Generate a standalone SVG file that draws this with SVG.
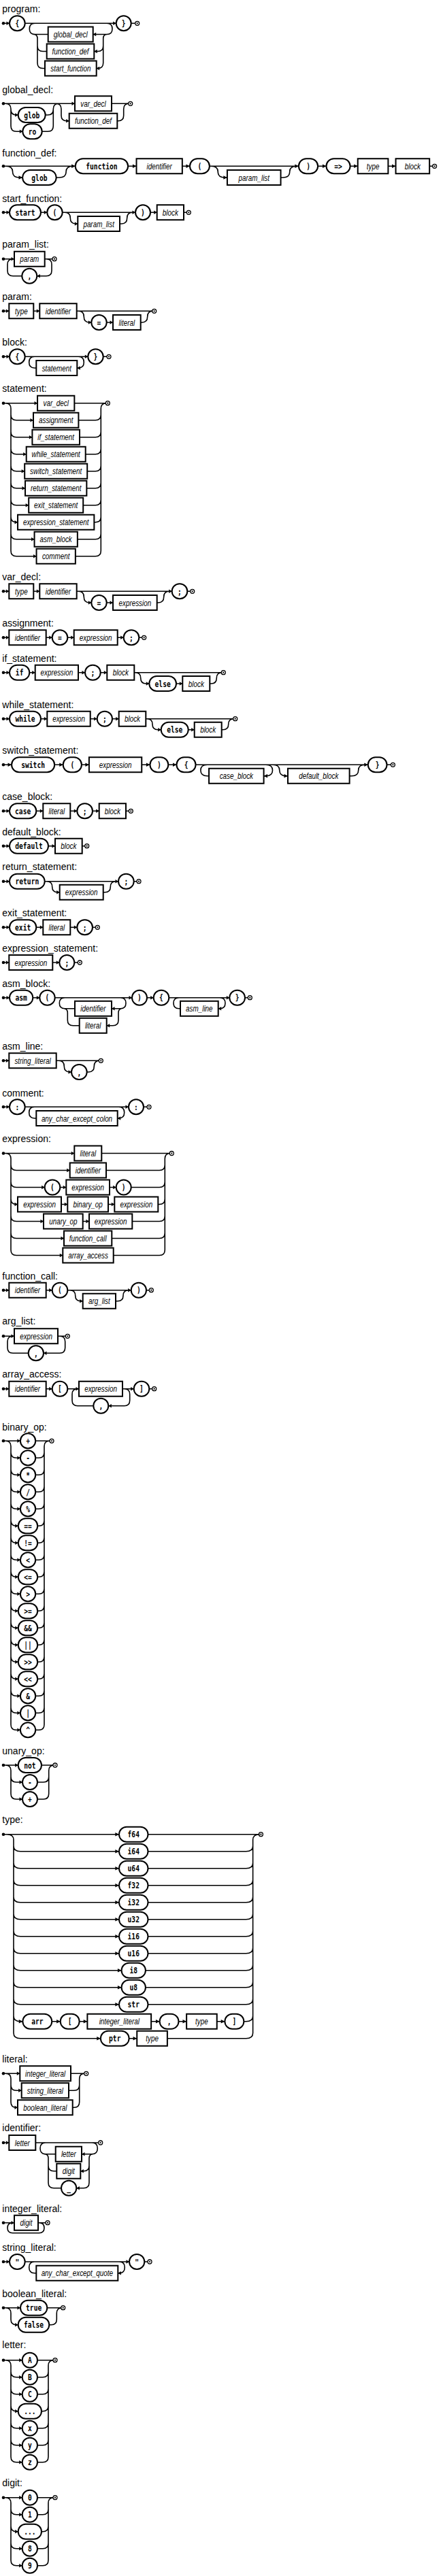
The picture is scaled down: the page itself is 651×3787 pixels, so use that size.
<svg xmlns="http://www.w3.org/2000/svg" width="651" height="3787" viewBox="0 0 651 3787">
<style>
.c path{fill:none;stroke:#000;stroke-width:1.6;vector-effect:non-scaling-stroke}
.n,.t{fill:#fff;stroke:#000;stroke-width:2;vector-effect:non-scaling-stroke}
.nt{font-family:"Liberation Sans",Arial,sans-serif;font-style:italic;font-size:13px;text-anchor:middle;transform:scale(.76,1);transform-origin:0 0}
.tt{font-family:"DejaVu Sans Mono","Liberation Mono",monospace;font-weight:bold;font-size:13px;text-anchor:middle;transform:scale(.74,1);transform-origin:0 0}
.w1 .nt{transform:scale(.613,1)}.w1 .tt{transform:scale(.597,1)}
.w2 .nt{transform:scale(.623,1)}.w2 .tt{transform:scale(.607,1)}
.w3 .nt{transform:scale(.608,1)}.w3 .tt{transform:scale(.592,1)}
.h text{font-family:"Liberation Sans",Arial,sans-serif;font-size:14px}
</style>
<defs>
<path id="a" d="M0 0L-4.5-2.8V2.8Z" fill="#000"/>
<path id="b" d="M0 0L4.5-2.8V2.8Z" fill="#000"/>
<circle id="s" r="2.3" fill="#000"/>
<g id="e"><circle r="3" fill="#fff" stroke="#000" stroke-width="1.3"/><circle r="1.1" fill="#000"/></g>
</defs>
<rect width="651" height="3787" fill="#fff"/>
<g class="h">
<text x="3.3" y="18.3">program:</text>
<text x="3.3" y="136.7">global_decl:</text>
<text x="3.3" y="230">function_def:</text>
<text x="3.3" y="296.7">start_function:</text>
<text x="3.3" y="364.3">param_list:</text>
<text x="3.3" y="441">param:</text>
<text x="3.3" y="508.3">block:</text>
<text x="3.3" y="575.7">statement:</text>
<text x="3.3" y="853.3">var_decl:</text>
<text x="3.3" y="921">assignment:</text>
<text x="3.3" y="973.3">if_statement:</text>
<text x="3.3" y="1040.7">while_statement:</text>
<text x="3.3" y="1108.3">switch_statement:</text>
<text x="3.3" y="1176">case_block:</text>
<text x="3.3" y="1227.7">default_block:</text>
<text x="3.3" y="1279">return_statement:</text>
<text x="3.3" y="1347.3">exit_statement:</text>
<text x="3.3" y="1399.3">expression_statement:</text>
<text x="3.3" y="1450.7">asm_block:</text>
<text x="3.3" y="1542.7">asm_line:</text>
<text x="3.3" y="1611.7">comment:</text>
<text x="3.3" y="1679.3">expression:</text>
<text x="3.3" y="1881">function_call:</text>
<text x="3.3" y="1947.3">arg_list:</text>
<text x="3.3" y="2025">array_access:</text>
<text x="3.3" y="2102.7">binary_op:</text>
<text x="3.3" y="2579.3">unary_op:</text>
<text x="3.3" y="2680">type:</text>
<text x="3.3" y="3031.7">literal:</text>
<text x="3.3" y="3133.3">identifier:</text>
<text x="3.3" y="3251.7">integer_literal:</text>
<text x="3.3" y="3309">string_literal:</text>
<text x="3.3" y="3376.7">boolean_literal:</text>
<text x="3.3" y="3452.3">letter:</text>
<text x="3.3" y="3655">digit:</text>
</g>

<!-- program -->
<g class="c" id="program_conn">
<path d="M5 34.3H14M36.7 34.3H170.7M192.7 34.3H198.7M51.3 34.3Q43.3 34.3 43.3 42.4Q43.3 50.5 51.3 50.5H70.7M49 50.5Q55 50.5 55 56.5V92.5Q55 100.5 63 100.5H66M55 67.5Q55 75.5 63 75.5H68.7M157 34.3Q165 34.3 165 42.4Q165 50.5 157 50.5H136.7M157.7 50.5Q151.7 50.5 151.7 56.5V92.5Q151.7 100.5 143.7 100.5H141.7M151.7 67.5Q151.7 75.5 143.7 75.5H138.3"/>
<use href="#s" x="5" y="34.3"/><use href="#a" x="14" y="34.3"/><use href="#a" x="170.7" y="34.3"/><use href="#b" x="136.7" y="50.5"/><use href="#b" x="138.3" y="75.5"/><use href="#b" x="141.7" y="100.5"/><use href="#e" x="201.7" y="34.3"/>
</g>
<g id="program_lb" transform="translate(25.35 34.3)"><rect class="t" x="-11.35" y="-11" width="22.7" height="22" rx="11"/><text class="tt" y="4.5">{</text></g>
<g id="program_gd" transform="translate(103.7 50.5)"><rect class="n" x="-33" y="-11" width="66" height="22"/><text class="nt" y="4.5">global_decl</text></g>
<g id="program_fd" transform="translate(103.5 75.5)"><rect class="n" x="-34.8" y="-11" width="69.6" height="22"/><text class="nt" y="4.5">function_def</text></g>
<g id="program_sf" transform="translate(103.85 100.5)"><rect class="n" x="-37.85" y="-11" width="75.7" height="22"/><text class="nt" y="4.5">start_function</text></g>
<g id="program_rb" transform="translate(181.7 34.3)"><rect class="t" x="-11" y="-11" width="22" height="22" rx="11"/><text class="tt" y="4.5">}</text></g>

<!-- global_decl -->
<g class="c" id="global_decl_conn">
<path d="M5 152.3H110M164 152.3H188.7M8 152.3Q16 152.3 16 160.3V185.3Q16 193.3 24 193.3H33.3M16 161Q16 169 24 169H26.7M66.7 169H70.3Q78.3 169 78.3 161M61.7 193.3H70.3Q78.3 193.3 78.3 185.3V160.3Q78.3 152.3 86.3 152.3M82 152.3Q90 152.3 90 160.3V169.7Q90 177.7 98 177.7H101.7M172.3 177.7H173.7Q181.7 177.7 181.7 169.7V160.3Q181.7 152.3 189.7 152.3"/>
<use href="#s" x="5" y="152.3"/><use href="#a" x="26.7" y="169"/><use href="#a" x="33.3" y="193.3"/><use href="#a" x="110" y="152.3"/><use href="#a" x="101.7" y="177.7"/><use href="#e" x="191.7" y="152.3"/>
</g>
<g id="gd_glob" transform="translate(46.7 169)"><rect class="t" x="-20" y="-11" width="40" height="22" rx="11"/><text class="tt" y="4.5">glob</text></g>
<g id="gd_ro" transform="translate(47.5 193.3)"><rect class="t" x="-14.2" y="-11" width="28.4" height="22" rx="11"/><text class="tt" y="4.5">ro</text></g>
<g id="gd_vd" transform="translate(137 152.3)"><rect class="n" x="-27" y="-11" width="54" height="22"/><text class="nt" y="4.5">var_decl</text></g>
<g id="gd_fd" transform="translate(137 177.7)"><rect class="n" x="-35.3" y="-11" width="70.6" height="22"/><text class="nt" y="4.5">function_def</text></g>

<!-- function_def (wider) -->
<use href="#s" x="5" y="244.3"/><use href="#e" x="638.6" y="244.3"/>
<g class="w1" id="function_def" transform="scale(1.24 1)">
<g class="c" id="function_def_conn">
<path d="M4 244.3H89.3M151.7 244.3H161.7M216 244.3H225M248.3 244.3H354M376.7 244.3H386.7M415 244.3H424M460 244.3H469M509 244.3H512.5M7 244.3Q15 244.3 15 252.6Q15 261 23 261H26.7M66.7 261H70.3Q78.3 261 78.3 252.6Q78.3 244.3 86.3 244.3M250.3 244.3Q258.3 244.3 258.3 252.6Q258.3 261 266.3 261H269.3M332.7 261H335.3Q343.3 261 343.3 252.6Q343.3 244.3 351.3 244.3"/>
<use href="#a" x="89.3" y="244.3"/><use href="#a" x="161.7" y="244.3"/><use href="#a" x="225" y="244.3"/><use href="#a" x="354" y="244.3"/><use href="#a" x="386.7" y="244.3"/><use href="#a" x="424" y="244.3"/><use href="#a" x="469" y="244.3"/><use href="#a" x="26.7" y="261"/><use href="#a" x="269.3" y="261"/>
</g>
<g id="fd_glob" transform="translate(46.7 261)"><rect class="t" x="-20" y="-11" width="40" height="22" rx="9" ry="11"/><text class="tt" y="4.5">glob</text></g>
<g id="fd_fn" transform="translate(120.5 244.3)"><rect class="t" x="-31.2" y="-11" width="62.4" height="22" rx="9" ry="11"/><text class="tt" y="4.5">function</text></g>
<g id="fd_id" transform="translate(188.85 244.3)"><rect class="n" x="-27.15" y="-11" width="54.3" height="22"/><text class="nt" y="4.5">identifier</text></g>
<g id="fd_lp" transform="translate(236.65 244.3)"><rect class="t" x="-11.65" y="-11" width="23.3" height="22" rx="9" ry="11"/><text class="tt" y="4.5">(</text></g>
<g id="fd_pl" transform="translate(301 261)"><rect class="n" x="-31.7" y="-11" width="63.4" height="22"/><text class="nt" y="4.5">param_list</text></g>
<g id="fd_rp" transform="translate(365.35 244.3)"><rect class="t" x="-11.35" y="-11" width="22.7" height="22" rx="9" ry="11"/><text class="tt" y="4.5">)</text></g>
<g id="fd_ar" transform="translate(400.85 244.3)"><rect class="t" x="-14.15" y="-11" width="28.3" height="22" rx="9" ry="11"/><text class="tt" y="4.5">=&gt;</text></g>
<g id="fd_ty" transform="translate(442 244.3)"><rect class="n" x="-18" y="-11" width="36" height="22"/><text class="nt" y="4.5">type</text></g>
<g id="fd_bl" transform="translate(489 244.3)"><rect class="n" x="-20" y="-11" width="40" height="22"/><text class="nt" y="4.5">block</text></g>
</g>

<!-- start_function -->
<g class="c" id="start_function_conn">
<path d="M5 312.3H14M60 312.3H69.3M91.7 312.3H199M221 312.3H230.7M270 312.3H274.3M95.3 312.3Q103.3 312.3 103.3 320.6Q103.3 329 111.3 329H114.3M176 329H178.7Q186.7 329 186.7 320.6Q186.7 312.3 194.7 312.3"/>
<use href="#s" x="5" y="312.3"/><use href="#a" x="14" y="312.3"/><use href="#a" x="69.3" y="312.3"/><use href="#a" x="199" y="312.3"/><use href="#a" x="230.7" y="312.3"/><use href="#a" x="114.3" y="329"/><use href="#e" x="277.3" y="312.3"/>
</g>
<g id="sf_st" transform="translate(37 312.3)"><rect class="t" x="-23" y="-11" width="46" height="22" rx="11"/><text class="tt" y="4.5">start</text></g>
<g id="sf_lp" transform="translate(80.5 312.3)"><rect class="t" x="-11.2" y="-11" width="22.4" height="22" rx="11"/><text class="tt" y="4.5">(</text></g>
<g id="sf_pl" transform="translate(145.15 329)"><rect class="n" x="-30.85" y="-11" width="61.7" height="22"/><text class="nt" y="4.5">param_list</text></g>
<g id="sf_rp" transform="translate(210 312.3)"><rect class="t" x="-11" y="-11" width="22" height="22" rx="11"/><text class="tt" y="4.5">)</text></g>
<g id="sf_bl" transform="translate(250.35 312.3)"><rect class="n" x="-19.65" y="-11" width="39.3" height="22"/><text class="nt" y="4.5">block</text></g>

<!-- param_list -->
<g class="c" id="param_list_conn">
<path d="M5 380.7H21M65.7 380.7H77M68 380.7Q76 380.7 76 388.7V397.7Q76 405.7 68 405.7H54.3M32.3 405.7H19Q11 405.7 11 397.7V388.7Q11 380.7 19 380.7"/>
<use href="#s" x="5" y="380.7"/><use href="#a" x="21" y="380.7"/><use href="#b" x="54.3" y="405.7"/><use href="#e" x="80" y="380.7"/>
</g>
<g id="pl_p" transform="translate(43.35 380.7)"><rect class="n" x="-22.35" y="-11" width="44.7" height="22"/><text class="nt" y="4.5">param</text></g>
<g id="pl_c" transform="translate(43.3 405.7)"><rect class="t" x="-11" y="-11" width="22" height="22" rx="11"/><text class="tt" y="4.5">,</text></g>

<!-- param -->
<g class="c" id="param_conn">
<path d="M5 457.3H13.3M49.3 457.3H58.3M112.7 457.3H223.7M115.3 457.3Q123.3 457.3 123.3 465.6Q123.3 474 131.3 474H134.3M156.7 474H166M206.7 474H208.7Q216.7 474 216.7 465.6Q216.7 457.3 224.7 457.3"/>
<use href="#s" x="5" y="457.3"/><use href="#a" x="13.3" y="457.3"/><use href="#a" x="58.3" y="457.3"/><use href="#a" x="134.3" y="474"/><use href="#a" x="166" y="474"/><use href="#e" x="226.7" y="457.3"/>
</g>
<g id="pa_ty" transform="translate(31.3 457.3)"><rect class="n" x="-18" y="-11" width="36" height="22"/><text class="nt" y="4.5">type</text></g>
<g id="pa_id" transform="translate(85.5 457.3)"><rect class="n" x="-27.2" y="-11" width="54.4" height="22"/><text class="nt" y="4.5">identifier</text></g>
<g id="pa_eq" transform="translate(145.5 474)"><rect class="t" x="-11.2" y="-11" width="22.4" height="22" rx="11"/><text class="tt" y="4.5">=</text></g>
<g id="pa_li" transform="translate(186.35 474)"><rect class="n" x="-20.35" y="-11" width="40.7" height="22"/><text class="nt" y="4.5">literal</text></g>

<!-- block -->
<g class="c" id="block_conn">
<path d="M5 524.3H14M36.7 524.3H129.3M151.7 524.3H157M115.3 524.3Q123.3 524.3 123.3 532.6Q123.3 541 115.3 541H113.3M53.3 541H50.7Q42.7 541 42.7 532.6Q42.7 524.3 50.7 524.3"/>
<use href="#s" x="5" y="524.3"/><use href="#a" x="14" y="524.3"/><use href="#a" x="129.3" y="524.3"/><use href="#b" x="113.3" y="541"/><use href="#e" x="160" y="524.3"/>
</g>
<g id="bl_lb" transform="translate(25.35 524.3)"><rect class="t" x="-11.35" y="-11" width="22.7" height="22" rx="11"/><text class="tt" y="4.5">{</text></g>
<g id="bl_st" transform="translate(83.3 541)"><rect class="n" x="-30" y="-11" width="60" height="22"/><text class="nt" y="4.5">statement</text></g>
<g id="bl_rb" transform="translate(140.5 524.3)"><rect class="t" x="-11.2" y="-11" width="22.4" height="22" rx="11"/><text class="tt" y="4.5">}</text></g>

<!-- statement -->
<g class="c" id="statement_conn">
<path d="M5 592.7H55.05M109.35 592.7H155.3M8 592.7Q16 592.7 16 600.7V809.7M148.3 809.7V600.7Q148.3 592.7 156.3 592.7M16 609.7Q16 617.7 24 617.7H49M115.4 617.7H140.3Q148.3 617.7 148.3 609.7M16 634.7Q16 642.7 24 642.7H47.4M117 642.7H140.3Q148.3 642.7 148.3 634.7M16 659.7Q16 667.7 24 667.7H38.7M125.7 667.7H140.3Q148.3 667.7 148.3 659.7M16 684.7Q16 692.7 24 692.7H36.2M128.2 692.7H140.3Q148.3 692.7 148.3 684.7M16 709.7Q16 717.7 24 717.7H37.05M127.35 717.7H140.3Q148.3 717.7 148.3 709.7M16 734.7Q16 742.7 24 742.7H42.2M122.2 742.7H140.3Q148.3 742.7 148.3 734.7M16 759.7Q16 767.7 24 767.7H26.05M138.35 767.7H140.3Q148.3 767.7 148.3 759.7M16 784.7Q16 792.7 24 792.7H50.55M113.85 792.7H140.3Q148.3 792.7 148.3 784.7M16 809.7Q16 817.7 24 817.7H53.55M110.85 817.7H140.3Q148.3 817.7 148.3 809.7"/>
<use href="#s" x="5" y="592.7"/><use href="#a" x="55.05" y="592.7"/><use href="#a" x="49" y="617.7"/><use href="#a" x="47.4" y="642.7"/><use href="#a" x="38.7" y="667.7"/><use href="#a" x="36.2" y="692.7"/><use href="#a" x="37.05" y="717.7"/><use href="#a" x="42.2" y="742.7"/><use href="#a" x="26.05" y="767.7"/><use href="#a" x="50.55" y="792.7"/><use href="#a" x="53.55" y="817.7"/><use href="#e" x="158.3" y="592.7"/>
</g>
<g id="st_vd" transform="translate(82.2 592.7)"><rect class="n" x="-27.15" y="-11" width="54.3" height="22"/><text class="nt" y="4.5">var_decl</text></g>
<g id="st_as" transform="translate(82.2 617.7)"><rect class="n" x="-33.2" y="-11" width="66.4" height="22"/><text class="nt" y="4.5">assignment</text></g>
<g id="st_if" transform="translate(82.2 642.7)"><rect class="n" x="-34.8" y="-11" width="69.6" height="22"/><text class="nt" y="4.5">if_statement</text></g>
<g id="st_wh" transform="translate(82.2 667.7)"><rect class="n" x="-43.5" y="-11" width="87" height="22"/><text class="nt" y="4.5">while_statement</text></g>
<g id="st_sw" transform="translate(82.2 692.7)"><rect class="n" x="-46" y="-11" width="92" height="22"/><text class="nt" y="4.5">switch_statement</text></g>
<g id="st_re" transform="translate(82.2 717.7)"><rect class="n" x="-45.15" y="-11" width="90.3" height="22"/><text class="nt" y="4.5">return_statement</text></g>
<g id="st_ex" transform="translate(82.2 742.7)"><rect class="n" x="-40" y="-11" width="80" height="22"/><text class="nt" y="4.5">exit_statement</text></g>
<g id="st_es" transform="translate(82.2 767.7)"><rect class="n" x="-56.15" y="-11" width="112.3" height="22"/><text class="nt" y="4.5">expression_statement</text></g>
<g id="st_ab" transform="translate(82.2 792.7)"><rect class="n" x="-31.65" y="-11" width="63.3" height="22"/><text class="nt" y="4.5">asm_block</text></g>
<g id="st_cm" transform="translate(82.2 817.7)"><rect class="n" x="-28.65" y="-11" width="57.3" height="22"/><text class="nt" y="4.5">comment</text></g>

<!-- var_decl -->
<g class="c" id="var_decl_conn">
<path d="M5 869.3H13.3M49.3 869.3H58.3M112.7 869.3H252.7M275.3 869.3H279.7M115.3 869.3Q123.3 869.3 123.3 877.6Q123.3 886 131.3 886H134.3M156.7 886H166M230.7 886H232.7Q240.7 886 240.7 877.6Q240.7 869.3 248.7 869.3"/>
<use href="#s" x="5" y="869.3"/><use href="#a" x="13.3" y="869.3"/><use href="#a" x="58.3" y="869.3"/><use href="#a" x="252.7" y="869.3"/><use href="#a" x="134.3" y="886"/><use href="#a" x="166" y="886"/><use href="#e" x="282.7" y="869.3"/>
</g>
<g id="vd_ty" transform="translate(31.3 869.3)"><rect class="n" x="-18" y="-11" width="36" height="22"/><text class="nt" y="4.5">type</text></g>
<g id="vd_id" transform="translate(85.5 869.3)"><rect class="n" x="-27.2" y="-11" width="54.4" height="22"/><text class="nt" y="4.5">identifier</text></g>
<g id="vd_eq" transform="translate(145.5 886)"><rect class="t" x="-11.2" y="-11" width="22.4" height="22" rx="11"/><text class="tt" y="4.5">=</text></g>
<g id="vd_ex" transform="translate(198.35 886)"><rect class="n" x="-32.35" y="-11" width="64.7" height="22"/><text class="nt" y="4.5">expression</text></g>
<g id="vd_sc" transform="translate(264 869.3)"><rect class="t" x="-11.3" y="-11" width="22.6" height="22" rx="11"/><text class="tt" y="4.5">;</text></g>

<!-- assignment -->
<g class="c" id="assignment_conn">
<path d="M5 937.3H13.3M67.7 937.3H76.7M99.3 937.3H108.7M172.7 937.3H181.7M204.3 937.3H208.7"/>
<use href="#s" x="5" y="937.3"/><use href="#a" x="13.3" y="937.3"/><use href="#a" x="76.7" y="937.3"/><use href="#a" x="108.7" y="937.3"/><use href="#a" x="181.7" y="937.3"/><use href="#e" x="211.7" y="937.3"/>
</g>
<g id="as_id" transform="translate(40.5 937.3)"><rect class="n" x="-27.2" y="-11" width="54.4" height="22"/><text class="nt" y="4.5">identifier</text></g>
<g id="as_eq" transform="translate(88 937.3)"><rect class="t" x="-11.3" y="-11" width="22.6" height="22" rx="11"/><text class="tt" y="4.5">=</text></g>
<g id="as_ex" transform="translate(140.7 937.3)"><rect class="n" x="-32" y="-11" width="64" height="22"/><text class="nt" y="4.5">expression</text></g>
<g id="as_sc" transform="translate(193 937.3)"><rect class="t" x="-11.3" y="-11" width="22.6" height="22" rx="11"/><text class="tt" y="4.5">;</text></g>

<!-- if_statement -->
<g class="c" id="if_statement_conn">
<path d="M5 988.7H14M43.3 988.7H51.7M115 988.7H125M147.7 988.7H157.3M197.3 988.7H325.3M198.7 988.7Q206.7 988.7 206.7 996.8Q206.7 1005 214.7 1005H219.3M259 1005H268.3M308.3 1005H310.3Q318.3 1005 318.3 996.8Q318.3 988.7 326.3 988.7"/>
<use href="#s" x="5" y="988.7"/><use href="#a" x="14" y="988.7"/><use href="#a" x="51.7" y="988.7"/><use href="#a" x="125" y="988.7"/><use href="#a" x="157.3" y="988.7"/><use href="#a" x="219.3" y="1005"/><use href="#a" x="268.3" y="1005"/><use href="#e" x="328.3" y="988.7"/>
</g>
<g id="if_if" transform="translate(28.65 988.7)"><rect class="t" x="-14.65" y="-11" width="29.3" height="22" rx="11"/><text class="tt" y="4.5">if</text></g>
<g id="if_ex" transform="translate(83.35 988.7)"><rect class="n" x="-31.65" y="-11" width="63.3" height="22"/><text class="nt" y="4.5">expression</text></g>
<g id="if_sc" transform="translate(136.35 988.7)"><rect class="t" x="-11.35" y="-11" width="22.7" height="22" rx="11"/><text class="tt" y="4.5">;</text></g>
<g id="if_bl" transform="translate(177.3 988.7)"><rect class="n" x="-20" y="-11" width="40" height="22"/><text class="nt" y="4.5">block</text></g>
<g id="if_el" transform="translate(239.15 1005)"><rect class="t" x="-19.85" y="-11" width="39.7" height="22" rx="11"/><text class="tt" y="4.5">else</text></g>
<g id="if_b2" transform="translate(288.3 1005)"><rect class="n" x="-20" y="-11" width="40" height="22"/><text class="nt" y="4.5">block</text></g>

<!-- while_statement -->
<g class="c" id="while_statement_conn">
<path d="M5 1056.7H14M60 1056.7H69.3M132.7 1056.7H142.7M165 1056.7H174.7M214.3 1056.7H342.7M216 1056.7Q224 1056.7 224 1064.7Q224 1072.7 232 1072.7H236.7M276.7 1072.7H285.7M325.7 1072.7H327.7Q335.7 1072.7 335.7 1064.7Q335.7 1056.7 343.7 1056.7"/>
<use href="#s" x="5" y="1056.7"/><use href="#a" x="14" y="1056.7"/><use href="#a" x="69.3" y="1056.7"/><use href="#a" x="142.7" y="1056.7"/><use href="#a" x="174.7" y="1056.7"/><use href="#a" x="236.7" y="1072.7"/><use href="#a" x="285.7" y="1072.7"/><use href="#e" x="345.7" y="1056.7"/>
</g>
<g id="wh_wh" transform="translate(37 1056.7)"><rect class="t" x="-23" y="-11" width="46" height="22" rx="11"/><text class="tt" y="4.5">while</text></g>
<g id="wh_ex" transform="translate(101 1056.7)"><rect class="n" x="-31.7" y="-11" width="63.4" height="22"/><text class="nt" y="4.5">expression</text></g>
<g id="wh_sc" transform="translate(153.85 1056.7)"><rect class="t" x="-11.15" y="-11" width="22.3" height="22" rx="11"/><text class="tt" y="4.5">;</text></g>
<g id="wh_bl" transform="translate(194.5 1056.7)"><rect class="n" x="-19.8" y="-11" width="39.6" height="22"/><text class="nt" y="4.5">block</text></g>
<g id="wh_el" transform="translate(256.7 1072.7)"><rect class="t" x="-20" y="-11" width="40" height="22" rx="11"/><text class="tt" y="4.5">else</text></g>
<g id="wh_b2" transform="translate(305.7 1072.7)"><rect class="n" x="-20" y="-11" width="40" height="22"/><text class="nt" y="4.5">block</text></g>

<!-- switch_statement (wider) -->
<use href="#s" x="5" y="1124.3"/><use href="#e" x="577.4" y="1124.3"/>
<g class="w2" id="switch_statement" transform="scale(1.22 1)">
<g class="c" id="switch_statement_conn">
<path d="M4.1 1124.3H14M65.7 1124.3H76M98.3 1124.3H107.3M170.7 1124.3H180.7M202.7 1124.3H212.7M235.7 1124.3H443.3M466 1124.3H470.8M251.7 1140.7H249.7Q241.7 1140.7 241.7 1132.5Q241.7 1124.3 249.7 1124.3M320.3 1124.3Q328.3 1124.3 328.3 1132.5Q328.3 1140.7 320.3 1140.7H317.7M328.7 1124.3Q336.7 1124.3 336.7 1132.5Q336.7 1140.7 344.7 1140.7H346.7M421 1140.7H423.7Q431.7 1140.7 431.7 1132.5Q431.7 1124.3 439.7 1124.3"/>
<use href="#a" x="14" y="1124.3"/><use href="#a" x="76" y="1124.3"/><use href="#a" x="107.3" y="1124.3"/><use href="#a" x="180.7" y="1124.3"/><use href="#a" x="212.7" y="1124.3"/><use href="#a" x="443.3" y="1124.3"/><use href="#b" x="317.7" y="1140.7"/><use href="#a" x="346.7" y="1140.7"/>
</g>
<g id="sw_sw" transform="translate(39.85 1124.3)"><rect class="t" x="-25.85" y="-11" width="51.7" height="22" rx="9" ry="11"/><text class="tt" y="4.5">switch</text></g>
<g id="sw_lp" transform="translate(87.15 1124.3)"><rect class="t" x="-11.15" y="-11" width="22.3" height="22" rx="9" ry="11"/><text class="tt" y="4.5">(</text></g>
<g id="sw_ex" transform="translate(139 1124.3)"><rect class="n" x="-31.7" y="-11" width="63.4" height="22"/><text class="nt" y="4.5">expression</text></g>
<g id="sw_rp" transform="translate(191.7 1124.3)"><rect class="t" x="-11" y="-11" width="22" height="22" rx="9" ry="11"/><text class="tt" y="4.5">)</text></g>
<g id="sw_lb" transform="translate(224.2 1124.3)"><rect class="t" x="-11.5" y="-11" width="23" height="22" rx="9" ry="11"/><text class="tt" y="4.5">{</text></g>
<g id="sw_cb" transform="translate(284.7 1140.7)"><rect class="n" x="-33" y="-11" width="66" height="22"/><text class="nt" y="4.5">case_block</text></g>
<g id="sw_db" transform="translate(383.85 1140.7)"><rect class="n" x="-37.15" y="-11" width="74.3" height="22"/><text class="nt" y="4.5">default_block</text></g>
<g id="sw_rb" transform="translate(454.65 1124.3)"><rect class="t" x="-11.35" y="-11" width="22.7" height="22" rx="9" ry="11"/><text class="tt" y="4.5">}</text></g>
</g>

<!-- case_block -->
<g class="c" id="case_block_conn">
<path d="M5 1192.3H14M53.3 1192.3H63.3M103.3 1192.3H113.3M136 1192.3H145.7M185 1192.3H189.3"/>
<use href="#s" x="5" y="1192.3"/><use href="#a" x="14" y="1192.3"/><use href="#a" x="63.3" y="1192.3"/><use href="#a" x="113.3" y="1192.3"/><use href="#a" x="145.7" y="1192.3"/><use href="#e" x="192.3" y="1192.3"/>
</g>
<g id="cb_ca" transform="translate(33.65 1192.3)"><rect class="t" x="-19.65" y="-11" width="39.3" height="22" rx="11"/><text class="tt" y="4.5">case</text></g>
<g id="cb_li" transform="translate(83.3 1192.3)"><rect class="n" x="-20" y="-11" width="40" height="22"/><text class="nt" y="4.5">literal</text></g>
<g id="cb_sc" transform="translate(124.65 1192.3)"><rect class="t" x="-11.35" y="-11" width="22.7" height="22" rx="11"/><text class="tt" y="4.5">;</text></g>
<g id="cb_bl" transform="translate(165.35 1192.3)"><rect class="n" x="-19.65" y="-11" width="39.3" height="22"/><text class="nt" y="4.5">block</text></g>

<!-- default_block -->
<g class="c" id="default_block_conn">
<path d="M5 1243.7H14M71 1243.7H81M120.7 1243.7H124.7"/>
<use href="#s" x="5" y="1243.7"/><use href="#a" x="14" y="1243.7"/><use href="#a" x="81" y="1243.7"/><use href="#e" x="127.7" y="1243.7"/>
</g>
<g id="db_de" transform="translate(42.5 1243.7)"><rect class="t" x="-28.5" y="-11" width="57" height="22" rx="11"/><text class="tt" y="4.5">default</text></g>
<g id="db_bl" transform="translate(100.85 1243.7)"><rect class="n" x="-19.85" y="-11" width="39.7" height="22"/><text class="nt" y="4.5">block</text></g>

<!-- return_statement -->
<g class="c" id="return_statement_conn">
<path d="M5 1295.7H14M65.7 1295.7H174M196.7 1295.7H201M68.7 1295.7Q76.7 1295.7 76.7 1303.7Q76.7 1311.7 84.7 1311.7H87.7M151.7 1311.7H154.3Q162.3 1311.7 162.3 1303.7Q162.3 1295.7 170.3 1295.7"/>
<use href="#s" x="5" y="1295.7"/><use href="#a" x="14" y="1295.7"/><use href="#a" x="174" y="1295.7"/><use href="#a" x="87.7" y="1311.7"/><use href="#e" x="204" y="1295.7"/>
</g>
<g id="rs_re" transform="translate(39.85 1295.7)"><rect class="t" x="-25.85" y="-11" width="51.7" height="22" rx="11"/><text class="tt" y="4.5">return</text></g>
<g id="rs_ex" transform="translate(119.7 1311.7)"><rect class="n" x="-32" y="-11" width="64" height="22"/><text class="nt" y="4.5">expression</text></g>
<g id="rs_sc" transform="translate(185.35 1295.7)"><rect class="t" x="-11.35" y="-11" width="22.7" height="22" rx="11"/><text class="tt" y="4.5">;</text></g>

<!-- exit_statement -->
<g class="c" id="exit_statement_conn">
<path d="M5 1363.3H14M53.3 1363.3H63.3M103.3 1363.3H113.3M136 1363.3H140.3"/>
<use href="#s" x="5" y="1363.3"/><use href="#a" x="14" y="1363.3"/><use href="#a" x="63.3" y="1363.3"/><use href="#a" x="113.3" y="1363.3"/><use href="#e" x="143.3" y="1363.3"/>
</g>
<g id="es_ex" transform="translate(33.65 1363.3)"><rect class="t" x="-19.65" y="-11" width="39.3" height="22" rx="11"/><text class="tt" y="4.5">exit</text></g>
<g id="es_li" transform="translate(83.3 1363.3)"><rect class="n" x="-20" y="-11" width="40" height="22"/><text class="nt" y="4.5">literal</text></g>
<g id="es_sc" transform="translate(124.65 1363.3)"><rect class="t" x="-11.35" y="-11" width="22.7" height="22" rx="11"/><text class="tt" y="4.5">;</text></g>

<!-- expression_statement -->
<g class="c" id="expression_statement_conn">
<path d="M5 1415H13.3M77.3 1415H87.3M109.3 1415H114.3"/>
<use href="#s" x="5" y="1415"/><use href="#a" x="13.3" y="1415"/><use href="#a" x="87.3" y="1415"/><use href="#e" x="117.3" y="1415"/>
</g>
<g id="xs_ex" transform="translate(45.3 1415)"><rect class="n" x="-32" y="-11" width="64" height="22"/><text class="nt" y="4.5">expression</text></g>
<g id="xs_sc" transform="translate(98.3 1415)"><rect class="t" x="-11" y="-11" width="22" height="22" rx="11"/><text class="tt" y="4.5">;</text></g>

<!-- asm_block -->
<g class="c" id="asm_block_conn">
<path d="M5 1466.7H14M48.3 1466.7H58.3M80.7 1466.7H194M216 1466.7H225.7M248.3 1466.7H337.3M360 1466.7H364.3M95.3 1466.7Q87.3 1466.7 87.3 1474.7Q87.3 1482.7 95.3 1482.7H110M93.3 1482.7Q99.3 1482.7 99.3 1488.7V1499.7Q99.3 1507.7 107.3 1507.7H116.7M177 1466.7Q185 1466.7 185 1474.7Q185 1482.7 177 1482.7H164M180 1482.7Q174 1482.7 174 1488.7V1499.7Q174 1507.7 166 1507.7H156.7M265 1482.7H263Q255 1482.7 255 1474.7Q255 1466.7 263 1466.7M323 1466.7Q331 1466.7 331 1474.7Q331 1482.7 323 1482.7H320.7"/>
<use href="#s" x="5" y="1466.7"/><use href="#a" x="14" y="1466.7"/><use href="#a" x="58.3" y="1466.7"/><use href="#a" x="194" y="1466.7"/><use href="#a" x="225.7" y="1466.7"/><use href="#a" x="337.3" y="1466.7"/><use href="#b" x="164" y="1482.7"/><use href="#b" x="156.7" y="1507.7"/><use href="#b" x="320.7" y="1482.7"/><use href="#e" x="367.3" y="1466.7"/>
</g>
<g id="ab_as" transform="translate(31.15 1466.7)"><rect class="t" x="-17.15" y="-11" width="34.3" height="22" rx="11"/><text class="tt" y="4.5">asm</text></g>
<g id="ab_lp" transform="translate(69.5 1466.7)"><rect class="t" x="-11.2" y="-11" width="22.4" height="22" rx="11"/><text class="tt" y="4.5">(</text></g>
<g id="ab_id" transform="translate(137 1482.7)"><rect class="n" x="-27" y="-11" width="54" height="22"/><text class="nt" y="4.5">identifier</text></g>
<g id="ab_li" transform="translate(136.7 1507.7)"><rect class="n" x="-20" y="-11" width="40" height="22"/><text class="nt" y="4.5">literal</text></g>
<g id="ab_rp" transform="translate(205 1466.7)"><rect class="t" x="-11" y="-11" width="22" height="22" rx="11"/><text class="tt" y="4.5">)</text></g>
<g id="ab_lb" transform="translate(237 1466.7)"><rect class="t" x="-11.3" y="-11" width="22.6" height="22" rx="11"/><text class="tt" y="4.5">{</text></g>
<g id="ab_al" transform="translate(292.85 1482.7)"><rect class="n" x="-27.85" y="-11" width="55.7" height="22"/><text class="nt" y="4.5">asm_line</text></g>
<g id="ab_rb" transform="translate(348.65 1466.7)"><rect class="t" x="-11.35" y="-11" width="22.7" height="22" rx="11"/><text class="tt" y="4.5">}</text></g>

<!-- asm_line -->
<g class="c" id="asm_line_conn">
<path d="M5 1559.3H13.3M82.7 1559.3H145.3M86.3 1559.3Q94.3 1559.3 94.3 1567.6Q94.3 1576 102.3 1576H105M127.7 1576H130.3Q138.3 1576 138.3 1567.6Q138.3 1559.3 146.3 1559.3"/>
<use href="#s" x="5" y="1559.3"/><use href="#a" x="13.3" y="1559.3"/><use href="#a" x="105" y="1576"/><use href="#e" x="148.3" y="1559.3"/>
</g>
<g id="al_sl" transform="translate(48 1559.3)"><rect class="n" x="-34.7" y="-11" width="69.4" height="22"/><text class="nt" y="4.5">string_literal</text></g>
<g id="al_c" transform="translate(116.35 1576)"><rect class="t" x="-11.35" y="-11" width="22.7" height="22" rx="11"/><text class="tt" y="4.5">,</text></g>

<!-- comment -->
<g class="c" id="comment_conn">
<path d="M5 1627.3H14M36.7 1627.3H189M211 1627.3H216M53.3 1644H50.7Q42.7 1644 42.7 1635.6Q42.7 1627.3 50.7 1627.3M174.7 1627.3Q182.7 1627.3 182.7 1635.6Q182.7 1644 174.7 1644H172.7"/>
<use href="#s" x="5" y="1627.3"/><use href="#a" x="14" y="1627.3"/><use href="#a" x="189" y="1627.3"/><use href="#b" x="172.7" y="1644"/><use href="#e" x="219" y="1627.3"/>
</g>
<g id="cm_c1" transform="translate(25.35 1627.3)"><rect class="t" x="-11.35" y="-11" width="22.7" height="22" rx="11"/><text class="tt" y="4.5">:</text></g>
<g id="cm_an" transform="translate(113 1644)"><rect class="n" x="-59.7" y="-11" width="119.4" height="22"/><text class="nt" y="4.5">any_char_except_colon</text></g>
<g id="cm_c2" transform="translate(200 1627.3)"><rect class="t" x="-11" y="-11" width="22" height="22" rx="11"/><text class="tt" y="4.5">:</text></g>

<!-- expression -->
<g class="c" id="expression_conn">
<path d="M5 1695.5H109.3M149.3 1695.5H249.3M8 1695.5Q16 1695.5 16 1703.5V1837.5M242.3 1837.5V1703.5Q242.3 1695.5 250.3 1695.5M16 1712.5Q16 1720.5 24 1720.5H102.7M156 1720.5H234.3Q242.3 1720.5 242.3 1712.5M16 1737.5Q16 1745.5 24 1745.5H65.7M88.3 1745.5H97.3M161 1745.5H170.7M192.7 1745.5H234.3Q242.3 1745.5 242.3 1737.5M16 1762.5Q16 1770.5 24 1770.5H26M90 1770.5H99.3M159 1770.5H168.3M232.3 1770.5H234.3Q242.3 1770.5 242.3 1762.5M16 1787.5Q16 1795.5 24 1795.5H64M121.7 1795.5H131M194.3 1795.5H234.3Q242.3 1795.5 242.3 1787.5M16 1812.5Q16 1820.5 24 1820.5H94M164.3 1820.5H234.3Q242.3 1820.5 242.3 1812.5M16 1837.5Q16 1845.5 24 1845.5H92.3M166.7 1845.5H234.3Q242.3 1845.5 242.3 1837.5"/>
<use href="#s" x="5" y="1695.5"/><use href="#a" x="109.3" y="1695.5"/><use href="#a" x="102.7" y="1720.5"/><use href="#a" x="65.7" y="1745.5"/><use href="#a" x="97.3" y="1745.5"/><use href="#a" x="170.7" y="1745.5"/><use href="#a" x="26" y="1770.5"/><use href="#a" x="99.3" y="1770.5"/><use href="#a" x="168.3" y="1770.5"/><use href="#a" x="64" y="1795.5"/><use href="#a" x="131" y="1795.5"/><use href="#a" x="94" y="1820.5"/><use href="#a" x="92.3" y="1845.5"/><use href="#e" x="252.3" y="1695.5"/>
</g>
<g id="ex_li" transform="translate(129.3 1695.5)"><rect class="n" x="-20" y="-11" width="40" height="22"/><text class="nt" y="4.5">literal</text></g>
<g id="ex_id" transform="translate(129.35 1720.5)"><rect class="n" x="-26.65" y="-11" width="53.3" height="22"/><text class="nt" y="4.5">identifier</text></g>
<g id="ex_lp" transform="translate(77 1745.5)"><rect class="t" x="-11.3" y="-11" width="22.6" height="22" rx="11"/><text class="tt" y="4.5">(</text></g>
<g id="ex_e1" transform="translate(129.15 1745.5)"><rect class="n" x="-31.85" y="-11" width="63.7" height="22"/><text class="nt" y="4.5">expression</text></g>
<g id="ex_rp" transform="translate(181.7 1745.5)"><rect class="t" x="-11" y="-11" width="22" height="22" rx="11"/><text class="tt" y="4.5">)</text></g>
<g id="ex_e2" transform="translate(58 1770.5)"><rect class="n" x="-32" y="-11" width="64" height="22"/><text class="nt" y="4.5">expression</text></g>
<g id="ex_bo" transform="translate(129.15 1770.5)"><rect class="n" x="-29.85" y="-11" width="59.7" height="22"/><text class="nt" y="4.5">binary_op</text></g>
<g id="ex_e3" transform="translate(200.3 1770.5)"><rect class="n" x="-32" y="-11" width="64" height="22"/><text class="nt" y="4.5">expression</text></g>
<g id="ex_uo" transform="translate(92.85 1795.5)"><rect class="n" x="-28.85" y="-11" width="57.7" height="22"/><text class="nt" y="4.5">unary_op</text></g>
<g id="ex_e4" transform="translate(162.65 1795.5)"><rect class="n" x="-31.65" y="-11" width="63.3" height="22"/><text class="nt" y="4.5">expression</text></g>
<g id="ex_fc" transform="translate(129.15 1820.5)"><rect class="n" x="-35.15" y="-11" width="70.3" height="22"/><text class="nt" y="4.5">function_call</text></g>
<g id="ex_aa" transform="translate(129.5 1845.5)"><rect class="n" x="-37.2" y="-11" width="74.4" height="22"/><text class="nt" y="4.5">array_access</text></g>

<!-- function_call -->
<g class="c" id="function_call_conn">
<path d="M5 1896.7H13.3M67.7 1896.7H76.7M99.3 1896.7H192.7M215 1896.7H219.3M102.7 1896.7Q110.7 1896.7 110.7 1904.7Q110.7 1912.7 118.7 1912.7H121.7M170 1912.7H173Q181 1912.7 181 1904.7Q181 1896.7 189 1896.7"/>
<use href="#s" x="5" y="1896.7"/><use href="#a" x="13.3" y="1896.7"/><use href="#a" x="76.7" y="1896.7"/><use href="#a" x="192.7" y="1896.7"/><use href="#a" x="121.7" y="1912.7"/><use href="#e" x="222.3" y="1896.7"/>
</g>
<g id="fc_id" transform="translate(40.5 1896.7)"><rect class="n" x="-27.2" y="-11" width="54.4" height="22"/><text class="nt" y="4.5">identifier</text></g>
<g id="fc_lp" transform="translate(88 1896.7)"><rect class="t" x="-11.3" y="-11" width="22.6" height="22" rx="11"/><text class="tt" y="4.5">(</text></g>
<g id="fc_al" transform="translate(145.85 1912.7)"><rect class="n" x="-24.15" y="-11" width="48.3" height="22"/><text class="nt" y="4.5">arg_list</text></g>
<g id="fc_rp" transform="translate(203.85 1896.7)"><rect class="t" x="-11.15" y="-11" width="22.3" height="22" rx="11"/><text class="tt" y="4.5">)</text></g>

<!-- arg_list -->
<g class="c" id="arg_list_conn">
<path d="M5 1964.3H21M85 1964.3H96.3M87.7 1964.3Q95.7 1964.3 95.7 1972.3V1981.3Q95.7 1989.3 87.7 1989.3H64M41.7 1989.3H19Q11 1989.3 11 1981.3V1972.3Q11 1964.3 19 1964.3"/>
<use href="#s" x="5" y="1964.3"/><use href="#a" x="21" y="1964.3"/><use href="#b" x="64" y="1989.3"/><use href="#e" x="99.3" y="1964.3"/>
</g>
<g id="ag_ex" transform="translate(53 1964.3)"><rect class="n" x="-32" y="-11" width="64" height="22"/><text class="nt" y="4.5">expression</text></g>
<g id="ag_c" transform="translate(52.85 1989.3)"><rect class="t" x="-11.15" y="-11" width="22.3" height="22" rx="11"/><text class="tt" y="4.5">,</text></g>

<!-- array_access -->
<g class="c" id="array_access_conn">
<path d="M5 2041.7H13.3M67.7 2041.7H76.7M99.3 2041.7H116M180 2041.7H196.7M219.3 2041.7H223.7M182.7 2041.7Q190.7 2041.7 190.7 2049.7V2058.7Q190.7 2066.7 182.7 2066.7H159.3M137.3 2066.7H114Q106 2066.7 106 2058.7V2049.7Q106 2041.7 114 2041.7"/>
<use href="#s" x="5" y="2041.7"/><use href="#a" x="13.3" y="2041.7"/><use href="#a" x="76.7" y="2041.7"/><use href="#a" x="116" y="2041.7"/><use href="#a" x="196.7" y="2041.7"/><use href="#b" x="159.3" y="2066.7"/><use href="#e" x="226.7" y="2041.7"/>
</g>
<g id="aa_id" transform="translate(40.5 2041.7)"><rect class="n" x="-27.2" y="-11" width="54.4" height="22"/><text class="nt" y="4.5">identifier</text></g>
<g id="aa_lb" transform="translate(88 2041.7)"><rect class="t" x="-11.3" y="-11" width="22.6" height="22" rx="11"/><text class="tt" y="4.5">[</text></g>
<g id="aa_ex" transform="translate(148 2041.7)"><rect class="n" x="-32" y="-11" width="64" height="22"/><text class="nt" y="4.5">expression</text></g>
<g id="aa_c" transform="translate(148.3 2066.7)"><rect class="t" x="-11" y="-11" width="22" height="22" rx="11"/><text class="tt" y="4.5">,</text></g>
<g id="aa_rb" transform="translate(208 2041.7)"><rect class="t" x="-11.3" y="-11" width="22.6" height="22" rx="11"/><text class="tt" y="4.5">]</text></g>

<!-- binary_op -->
<g class="c" id="binary_op_conn">
<path d="M5 2118.3H29.9M52.2 2118.3H73M8 2118.3Q16 2118.3 16 2126.3V2535.3M65 2535.3V2126.3Q65 2118.3 73 2118.3M16 2135.3Q16 2143.3 24 2143.3H29.9M52.2 2143.3H57Q65 2143.3 65 2135.3M16 2160.3Q16 2168.3 24 2168.3H29.9M52.2 2168.3H57Q65 2168.3 65 2160.3M16 2185.3Q16 2193.3 24 2193.3H29.9M52.2 2193.3H57Q65 2193.3 65 2185.3M16 2210.3Q16 2218.3 24 2218.3H29.9M52.2 2218.3H57Q65 2218.3 65 2210.3M16 2235.3Q16 2243.3 24 2243.3H26.8M55.2 2243.3H57Q65 2243.3 65 2235.3M16 2260.3Q16 2268.3 24 2268.3H26.8M55.2 2268.3H57Q65 2268.3 65 2260.3M16 2285.3Q16 2293.3 24 2293.3H29.9M52.2 2293.3H57Q65 2293.3 65 2285.3M16 2310.3Q16 2318.3 24 2318.3H26.8M55.2 2318.3H57Q65 2318.3 65 2310.3M16 2335.3Q16 2343.3 24 2343.3H29.9M52.2 2343.3H57Q65 2343.3 65 2335.3M16 2360.3Q16 2368.3 24 2368.3H26.8M55.2 2368.3H57Q65 2368.3 65 2360.3M16 2385.3Q16 2393.3 24 2393.3H26.8M55.2 2393.3H57Q65 2393.3 65 2385.3M16 2410.3Q16 2418.3 24 2418.3H26.8M55.2 2418.3H57Q65 2418.3 65 2410.3M16 2435.3Q16 2443.3 24 2443.3H26.8M55.2 2443.3H57Q65 2443.3 65 2435.3M16 2460.3Q16 2468.3 24 2468.3H26.8M55.2 2468.3H57Q65 2468.3 65 2460.3M16 2485.3Q16 2493.3 24 2493.3H29.9M52.2 2493.3H57Q65 2493.3 65 2485.3M16 2510.3Q16 2518.3 24 2518.3H29.9M52.2 2518.3H57Q65 2518.3 65 2510.3M16 2535.3Q16 2543.3 24 2543.3H29.9M52.2 2543.3H57Q65 2543.3 65 2535.3"/>
<use href="#s" x="5" y="2118.3"/><use href="#a" x="29.9" y="2118.3"/><use href="#a" x="29.9" y="2143.3"/><use href="#a" x="29.9" y="2168.3"/><use href="#a" x="29.9" y="2193.3"/><use href="#a" x="29.9" y="2218.3"/><use href="#a" x="26.8" y="2243.3"/><use href="#a" x="26.8" y="2268.3"/><use href="#a" x="29.9" y="2293.3"/><use href="#a" x="26.8" y="2318.3"/><use href="#a" x="29.9" y="2343.3"/><use href="#a" x="26.8" y="2368.3"/><use href="#a" x="26.8" y="2393.3"/><use href="#a" x="26.8" y="2418.3"/><use href="#a" x="26.8" y="2443.3"/><use href="#a" x="26.8" y="2468.3"/><use href="#a" x="29.9" y="2493.3"/><use href="#a" x="29.9" y="2518.3"/><use href="#a" x="29.9" y="2543.3"/><use href="#e" x="76" y="2118.3"/>
</g>
<g id="bo_plus" transform="translate(41.05 2118.3)"><rect class="t" x="-11.15" y="-11" width="22.3" height="22" rx="11"/><text class="tt" y="4.5">+</text></g>
<g id="bo_minus" transform="translate(41.05 2143.3)"><rect class="t" x="-11.15" y="-11" width="22.3" height="22" rx="11"/><text class="tt" y="4.5">-</text></g>
<g id="bo_mul" transform="translate(41.05 2168.3)"><rect class="t" x="-11.15" y="-11" width="22.3" height="22" rx="11"/><text class="tt" y="4.5">*</text></g>
<g id="bo_div" transform="translate(41.05 2193.3)"><rect class="t" x="-11.15" y="-11" width="22.3" height="22" rx="11"/><text class="tt" y="4.5">/</text></g>
<g id="bo_mod" transform="translate(41.05 2218.3)"><rect class="t" x="-11.15" y="-11" width="22.3" height="22" rx="11"/><text class="tt" y="4.5">%</text></g>
<g id="bo_eq" transform="translate(41 2243.3)"><rect class="t" x="-14.2" y="-11" width="28.4" height="22" rx="11"/><text class="tt" y="4.5">==</text></g>
<g id="bo_ne" transform="translate(41 2268.3)"><rect class="t" x="-14.2" y="-11" width="28.4" height="22" rx="11"/><text class="tt" y="4.5">!=</text></g>
<g id="bo_lt" transform="translate(41.05 2293.3)"><rect class="t" x="-11.15" y="-11" width="22.3" height="22" rx="11"/><text class="tt" y="4.5">&lt;</text></g>
<g id="bo_le" transform="translate(41 2318.3)"><rect class="t" x="-14.2" y="-11" width="28.4" height="22" rx="11"/><text class="tt" y="4.5">&lt;=</text></g>
<g id="bo_gt" transform="translate(41.05 2343.3)"><rect class="t" x="-11.15" y="-11" width="22.3" height="22" rx="11"/><text class="tt" y="4.5">&gt;</text></g>
<g id="bo_ge" transform="translate(41 2368.3)"><rect class="t" x="-14.2" y="-11" width="28.4" height="22" rx="11"/><text class="tt" y="4.5">&gt;=</text></g>
<g id="bo_and" transform="translate(41 2393.3)"><rect class="t" x="-14.2" y="-11" width="28.4" height="22" rx="11"/><text class="tt" y="4.5">&amp;&amp;</text></g>
<g id="bo_or" transform="translate(41 2418.3)"><rect class="t" x="-14.2" y="-11" width="28.4" height="22" rx="11"/><text class="tt" y="4.5">||</text></g>
<g id="bo_shr" transform="translate(41 2443.3)"><rect class="t" x="-14.2" y="-11" width="28.4" height="22" rx="11"/><text class="tt" y="4.5">&gt;&gt;</text></g>
<g id="bo_shl" transform="translate(41 2468.3)"><rect class="t" x="-14.2" y="-11" width="28.4" height="22" rx="11"/><text class="tt" y="4.5">&lt;&lt;</text></g>
<g id="bo_band" transform="translate(41.05 2493.3)"><rect class="t" x="-11.15" y="-11" width="22.3" height="22" rx="11"/><text class="tt" y="4.5">&amp;</text></g>
<g id="bo_bor" transform="translate(41.05 2518.3)"><rect class="t" x="-11.15" y="-11" width="22.3" height="22" rx="11"/><text class="tt" y="4.5">|</text></g>
<g id="bo_xor" transform="translate(41.05 2543.3)"><rect class="t" x="-11.15" y="-11" width="22.3" height="22" rx="11"/><text class="tt" y="4.5">^</text></g>

<!-- unary_op -->
<g class="c" id="unary_op_conn">
<path d="M5 2595H26.7M61 2595H78M8 2595Q16 2595 16 2603V2637Q16 2645 24 2645H33M16 2612Q16 2620 24 2620H33M55 2620H63.7Q71.7 2620 71.7 2612M55 2645H63.7Q71.7 2645 71.7 2637V2603Q71.7 2595 79.7 2595"/>
<use href="#s" x="5" y="2595"/><use href="#a" x="26.7" y="2595"/><use href="#a" x="33" y="2620"/><use href="#a" x="33" y="2645"/><use href="#e" x="81" y="2595"/>
</g>
<g id="uo_not" transform="translate(43.85 2595)"><rect class="t" x="-17.15" y="-11" width="34.3" height="22" rx="11"/><text class="tt" y="4.5">not</text></g>
<g id="uo_minus" transform="translate(44 2620)"><rect class="t" x="-11" y="-11" width="22" height="22" rx="11"/><text class="tt" y="4.5">-</text></g>
<g id="uo_plus" transform="translate(44 2645)"><rect class="t" x="-11" y="-11" width="22" height="22" rx="11"/><text class="tt" y="4.5">+</text></g>

<!-- type (wider) -->
<use href="#s" x="5" y="2696.7"/><use href="#e" x="383.4" y="2696.7"/>
<g class="w3" id="type" transform="scale(1.25 1)">
<g class="c" id="type_conn">
<path d="M4 2696.7H140M174 2696.7H304.3M8 2696.7Q16 2696.7 16 2704.7V2988.7M297.3 2988.7V2704.7Q297.3 2696.7 305.3 2696.7M16 2713.7Q16 2721.7 24 2721.7H140M174 2721.7H289.3Q297.3 2721.7 297.3 2713.7M16 2738.7Q16 2746.7 24 2746.7H140M174 2746.7H289.3Q297.3 2746.7 297.3 2738.7M16 2763.7Q16 2771.7 24 2771.7H140M174 2771.7H289.3Q297.3 2771.7 297.3 2763.7M16 2788.7Q16 2796.7 24 2796.7H140M174 2796.7H289.3Q297.3 2796.7 297.3 2788.7M16 2813.7Q16 2821.7 24 2821.7H140M174 2821.7H289.3Q297.3 2821.7 297.3 2813.7M16 2838.7Q16 2846.7 24 2846.7H140M174 2846.7H289.3Q297.3 2846.7 297.3 2838.7M16 2863.7Q16 2871.7 24 2871.7H140M174 2871.7H289.3Q297.3 2871.7 297.3 2863.7M16 2888.7Q16 2896.7 24 2896.7H142.85M171.15 2896.7H289.3Q297.3 2896.7 297.3 2888.7M16 2913.7Q16 2921.7 24 2921.7H142.85M171.15 2921.7H289.3Q297.3 2921.7 297.3 2913.7M16 2938.7Q16 2946.7 24 2946.7H140M174 2946.7H289.3Q297.3 2946.7 297.3 2938.7M16 2963.7Q16 2971.7 24 2971.7H26.7M61 2971.7H71M93.3 2971.7H102.7M177.7 2971.7H187.7M210 2971.7H219.3M255 2971.7H264.3M286.7 2971.7H289.3Q297.3 2971.7 297.3 2963.7M16 2988.7Q16 2996.7 24 2996.7H118.3M151.7 2996.7H161M196.7 2996.7H289.3Q297.3 2996.7 297.3 2988.7"/>
<use href="#a" x="140" y="2696.7"/><use href="#a" x="140" y="2721.7"/><use href="#a" x="140" y="2746.7"/><use href="#a" x="140" y="2771.7"/><use href="#a" x="140" y="2796.7"/><use href="#a" x="140" y="2821.7"/><use href="#a" x="140" y="2846.7"/><use href="#a" x="140" y="2871.7"/><use href="#a" x="142.85" y="2896.7"/><use href="#a" x="142.85" y="2921.7"/><use href="#a" x="140" y="2946.7"/><use href="#a" x="26.7" y="2971.7"/><use href="#a" x="71" y="2971.7"/><use href="#a" x="102.7" y="2971.7"/><use href="#a" x="187.7" y="2971.7"/><use href="#a" x="219.3" y="2971.7"/><use href="#a" x="264.3" y="2971.7"/><use href="#a" x="118.3" y="2996.7"/><use href="#a" x="161" y="2996.7"/>
</g>
<g id="ty_f64" transform="translate(157 2696.7)"><rect class="t" x="-17" y="-11" width="34" height="22" rx="8.8" ry="11"/><text class="tt" y="4.5">f64</text></g>
<g id="ty_i64" transform="translate(157 2721.7)"><rect class="t" x="-17" y="-11" width="34" height="22" rx="8.8" ry="11"/><text class="tt" y="4.5">i64</text></g>
<g id="ty_u64" transform="translate(157 2746.7)"><rect class="t" x="-17" y="-11" width="34" height="22" rx="8.8" ry="11"/><text class="tt" y="4.5">u64</text></g>
<g id="ty_f32" transform="translate(157 2771.7)"><rect class="t" x="-17" y="-11" width="34" height="22" rx="8.8" ry="11"/><text class="tt" y="4.5">f32</text></g>
<g id="ty_i32" transform="translate(157 2796.7)"><rect class="t" x="-17" y="-11" width="34" height="22" rx="8.8" ry="11"/><text class="tt" y="4.5">i32</text></g>
<g id="ty_u32" transform="translate(157 2821.7)"><rect class="t" x="-17" y="-11" width="34" height="22" rx="8.8" ry="11"/><text class="tt" y="4.5">u32</text></g>
<g id="ty_i16" transform="translate(157 2846.7)"><rect class="t" x="-17" y="-11" width="34" height="22" rx="8.8" ry="11"/><text class="tt" y="4.5">i16</text></g>
<g id="ty_u16" transform="translate(157 2871.7)"><rect class="t" x="-17" y="-11" width="34" height="22" rx="8.8" ry="11"/><text class="tt" y="4.5">u16</text></g>
<g id="ty_i8" transform="translate(157 2896.7)"><rect class="t" x="-14.15" y="-11" width="28.3" height="22" rx="8.8" ry="11"/><text class="tt" y="4.5">i8</text></g>
<g id="ty_u8" transform="translate(157 2921.7)"><rect class="t" x="-14.15" y="-11" width="28.3" height="22" rx="8.8" ry="11"/><text class="tt" y="4.5">u8</text></g>
<g id="ty_str" transform="translate(157 2946.7)"><rect class="t" x="-17" y="-11" width="34" height="22" rx="8.8" ry="11"/><text class="tt" y="4.5">str</text></g>
<g id="ty_arr" transform="translate(43.85 2971.7)"><rect class="t" x="-17.15" y="-11" width="34.3" height="22" rx="8.8" ry="11"/><text class="tt" y="4.5">arr</text></g>
<g id="ty_lb" transform="translate(82.15 2971.7)"><rect class="t" x="-11.15" y="-11" width="22.3" height="22" rx="8.8" ry="11"/><text class="tt" y="4.5">[</text></g>
<g id="ty_il" transform="translate(140.2 2971.7)"><rect class="n" x="-37.5" y="-11" width="75" height="22"/><text class="nt" y="4.5">integer_literal</text></g>
<g id="ty_c" transform="translate(198.85 2971.7)"><rect class="t" x="-11.15" y="-11" width="22.3" height="22" rx="8.8" ry="11"/><text class="tt" y="4.5">,</text></g>
<g id="ty_ty" transform="translate(237.15 2971.7)"><rect class="n" x="-17.85" y="-11" width="35.7" height="22"/><text class="nt" y="4.5">type</text></g>
<g id="ty_rb" transform="translate(275.5 2971.7)"><rect class="t" x="-11.2" y="-11" width="22.4" height="22" rx="8.8" ry="11"/><text class="tt" y="4.5">]</text></g>
<g id="ty_ptr" transform="translate(135 2996.7)"><rect class="t" x="-16.7" y="-11" width="33.4" height="22" rx="8.8" ry="11"/><text class="tt" y="4.5">ptr</text></g>
<g id="ty_t2" transform="translate(178.85 2996.7)"><rect class="n" x="-17.85" y="-11" width="35.7" height="22"/><text class="nt" y="4.5">type</text></g>
</g>

<!-- literal -->
<g class="c" id="literal_conn">
<path d="M5 3048.3H29.3M104 3048.3H123.7M8 3048.3Q16 3048.3 16 3056.3V3090.3Q16 3098.3 24 3098.3H26M16 3065.3Q16 3073.3 24 3073.3H31.7M101 3073.3H108.7Q116.7 3073.3 116.7 3065.3M106.7 3098.3H108.7Q116.7 3098.3 116.7 3090.3V3056.3Q116.7 3048.3 124.7 3048.3"/>
<use href="#s" x="5" y="3048.3"/><use href="#a" x="29.3" y="3048.3"/><use href="#a" x="31.7" y="3073.3"/><use href="#a" x="26" y="3098.3"/><use href="#e" x="126.7" y="3048.3"/>
</g>
<g id="li_il" transform="translate(66.65 3048.3)"><rect class="n" x="-37.35" y="-11" width="74.7" height="22"/><text class="nt" y="4.5">integer_literal</text></g>
<g id="li_sl" transform="translate(66.35 3073.3)"><rect class="n" x="-34.65" y="-11" width="69.3" height="22"/><text class="nt" y="4.5">string_literal</text></g>
<g id="li_bl" transform="translate(66.35 3098.3)"><rect class="n" x="-40.35" y="-11" width="80.7" height="22"/><text class="nt" y="4.5">boolean_literal</text></g>

<!-- identifier -->
<g class="c" id="identifier_conn">
<path d="M5 3150H13.3M52.3 3150H144.7M67 3150Q59 3150 59 3158.3Q59 3166.7 67 3166.7H81.7M65 3166.7Q71 3166.7 71 3172.7V3208.7Q71 3216.7 79 3216.7H90M71 3183.7Q71 3191.7 79 3191.7H83.3M135.3 3150Q143.3 3150 143.3 3158.3Q143.3 3166.7 135.3 3166.7H120M137 3166.7Q131 3166.7 131 3172.7V3208.7Q131 3216.7 123 3216.7H112.3M131 3183.7Q131 3191.7 123 3191.7H118.3"/>
<use href="#s" x="5" y="3150"/><use href="#a" x="13.3" y="3150"/><use href="#b" x="120" y="3166.7"/><use href="#b" x="118.3" y="3191.7"/><use href="#b" x="112.3" y="3216.7"/><use href="#e" x="147.7" y="3150"/>
</g>
<g id="id_l" transform="translate(32.8 3150)"><rect class="n" x="-19.5" y="-11" width="39" height="22"/><text class="nt" y="4.5">letter</text></g>
<g id="id_l2" transform="translate(100.85 3166.7)"><rect class="n" x="-19.15" y="-11" width="38.3" height="22"/><text class="nt" y="4.5">letter</text></g>
<g id="id_d" transform="translate(100.8 3191.7)"><rect class="n" x="-17.5" y="-11" width="35" height="22"/><text class="nt" y="4.5">digit</text></g>
<g id="id_u" transform="translate(101.15 3216.7)"><rect class="t" x="-11.15" y="-11" width="22.3" height="22" rx="11"/><text class="tt" y="4.5">_</text></g>

<!-- integer_literal -->
<g class="c" id="integer_literal_conn">
<path d="M5 3267.7H21M56 3267.7H67M57.5 3267.7Q65 3267.7 65 3275.2Q65 3282.7 57.5 3282.7H18.5Q11 3282.7 11 3275.2Q11 3267.7 18.5 3267.7"/>
<use href="#s" x="5" y="3267.7"/><use href="#a" x="21" y="3267.7"/><use href="#e" x="70" y="3267.7"/>
</g>
<g id="il_d" transform="translate(38.5 3267.7)"><rect class="n" x="-17.5" y="-11" width="35" height="22"/><text class="nt" y="4.5">digit</text></g>

<!-- string_literal -->
<g class="c" id="string_literal_conn">
<path d="M5 3325H14M36.7 3325H190M212.3 3325H217M53.3 3341.7H50.7Q42.7 3341.7 42.7 3333.3Q42.7 3325 50.7 3325M175.3 3325Q183.3 3325 183.3 3333.3Q183.3 3341.7 175.3 3341.7H173.3"/>
<use href="#s" x="5" y="3325"/><use href="#a" x="14" y="3325"/><use href="#a" x="190" y="3325"/><use href="#b" x="173.3" y="3341.7"/><use href="#e" x="220" y="3325"/>
</g>
<g id="sl_q1" transform="translate(25.35 3325)"><rect class="t" x="-11.35" y="-11" width="22.7" height="22" rx="11"/><text class="tt" y="4.5">"</text></g>
<g id="sl_an" transform="translate(113.3 3341.7)"><rect class="n" x="-60" y="-11" width="120" height="22"/><text class="nt" y="4.5">any_char_except_quote</text></g>
<g id="sl_q2" transform="translate(201.15 3325)"><rect class="t" x="-11.15" y="-11" width="22.3" height="22" rx="11"/><text class="tt" y="4.5">"</text></g>

<!-- boolean_literal -->
<g class="c" id="boolean_literal_conn">
<path d="M5 3392.7H30M69.3 3392.7H89.7M8 3392.7Q16 3392.7 16 3400.7V3409.7Q16 3417.7 24 3417.7H26.7M72.3 3417.7H75.3Q83.3 3417.7 83.3 3409.7V3400.7Q83.3 3392.7 91.3 3392.7"/>
<use href="#s" x="5" y="3392.7"/><use href="#a" x="30" y="3392.7"/><use href="#a" x="26.7" y="3417.7"/><use href="#e" x="92.7" y="3392.7"/>
</g>
<g id="bl_true" transform="translate(49.65 3392.7)"><rect class="t" x="-19.65" y="-11" width="39.3" height="22" rx="11"/><text class="tt" y="4.5">true</text></g>
<g id="bl_false" transform="translate(49.5 3417.7)"><rect class="t" x="-22.8" y="-11" width="45.6" height="22" rx="11"/><text class="tt" y="4.5">false</text></g>

<!-- letter -->
<g class="c" id="letter_conn">
<path d="M5 3469.7H32.7M55 3469.7H78M8 3469.7Q16 3469.7 16 3477.7V3611.7M71 3611.7V3477.7Q71 3469.7 79 3469.7M16 3486.7Q16 3494.7 24 3494.7H32.7M55 3494.7H63Q71 3494.7 71 3486.7M16 3511.7Q16 3519.7 24 3519.7H32.7M55 3519.7H63Q71 3519.7 71 3511.7M16 3536.7Q16 3544.7 24 3544.7H26.7M61 3544.7H63Q71 3544.7 71 3536.7M16 3561.7Q16 3569.7 24 3569.7H32.7M55 3569.7H63Q71 3569.7 71 3561.7M16 3586.7Q16 3594.7 24 3594.7H32.7M55 3594.7H63Q71 3594.7 71 3586.7M16 3611.7Q16 3619.7 24 3619.7H32.7M55 3619.7H63Q71 3619.7 71 3611.7"/>
<use href="#s" x="5" y="3469.7"/><use href="#a" x="32.7" y="3469.7"/><use href="#a" x="32.7" y="3494.7"/><use href="#a" x="32.7" y="3519.7"/><use href="#a" x="26.7" y="3544.7"/><use href="#a" x="32.7" y="3569.7"/><use href="#a" x="32.7" y="3594.7"/><use href="#a" x="32.7" y="3619.7"/><use href="#e" x="81" y="3469.7"/>
</g>
<g id="le_A" transform="translate(43.85 3469.7)"><rect class="t" x="-11.15" y="-11" width="22.3" height="22" rx="11"/><text class="tt" y="4.5">A</text></g>
<g id="le_B" transform="translate(43.85 3494.7)"><rect class="t" x="-11.15" y="-11" width="22.3" height="22" rx="11"/><text class="tt" y="4.5">B</text></g>
<g id="le_C" transform="translate(43.85 3519.7)"><rect class="t" x="-11.15" y="-11" width="22.3" height="22" rx="11"/><text class="tt" y="4.5">C</text></g>
<g id="le_dots" transform="translate(43.85 3544.7)"><rect class="t" x="-17.15" y="-11" width="34.3" height="22" rx="11"/><text class="tt" y="4.5">...</text></g>
<g id="le_x" transform="translate(43.85 3569.7)"><rect class="t" x="-11.15" y="-11" width="22.3" height="22" rx="11"/><text class="tt" y="4.5">x</text></g>
<g id="le_y" transform="translate(43.85 3594.7)"><rect class="t" x="-11.15" y="-11" width="22.3" height="22" rx="11"/><text class="tt" y="4.5">y</text></g>
<g id="le_z" transform="translate(43.85 3619.7)"><rect class="t" x="-11.15" y="-11" width="22.3" height="22" rx="11"/><text class="tt" y="4.5">z</text></g>

<!-- digit -->
<g class="c" id="digit_conn">
<path d="M5 3671.7H32.7M55 3671.7H78M8 3671.7Q16 3671.7 16 3679.7V3763.7M71 3763.7V3679.7Q71 3671.7 79 3671.7M16 3688.7Q16 3696.7 24 3696.7H32.7M55 3696.7H63Q71 3696.7 71 3688.7M16 3713.7Q16 3721.7 24 3721.7H26.7M61 3721.7H63Q71 3721.7 71 3713.7M16 3738.7Q16 3746.7 24 3746.7H32.7M55 3746.7H63Q71 3746.7 71 3738.7M16 3763.7Q16 3771.7 24 3771.7H32.7M55 3771.7H63Q71 3771.7 71 3763.7"/>
<use href="#s" x="5" y="3671.7"/><use href="#a" x="32.7" y="3671.7"/><use href="#a" x="32.7" y="3696.7"/><use href="#a" x="26.7" y="3721.7"/><use href="#a" x="32.7" y="3746.7"/><use href="#a" x="32.7" y="3771.7"/><use href="#e" x="81" y="3671.7"/>
</g>
<g id="dg_0" transform="translate(43.85 3671.7)"><rect class="t" x="-11.15" y="-11" width="22.3" height="22" rx="11"/><text class="tt" y="4.5">0</text></g>
<g id="dg_1" transform="translate(43.85 3696.7)"><rect class="t" x="-11.15" y="-11" width="22.3" height="22" rx="11"/><text class="tt" y="4.5">1</text></g>
<g id="dg_dots" transform="translate(43.85 3721.7)"><rect class="t" x="-17.15" y="-11" width="34.3" height="22" rx="11"/><text class="tt" y="4.5">...</text></g>
<g id="dg_8" transform="translate(43.85 3746.7)"><rect class="t" x="-11.15" y="-11" width="22.3" height="22" rx="11"/><text class="tt" y="4.5">8</text></g>
<g id="dg_9" transform="translate(43.85 3771.7)"><rect class="t" x="-11.15" y="-11" width="22.3" height="22" rx="11"/><text class="tt" y="4.5">9</text></g>
</svg>
